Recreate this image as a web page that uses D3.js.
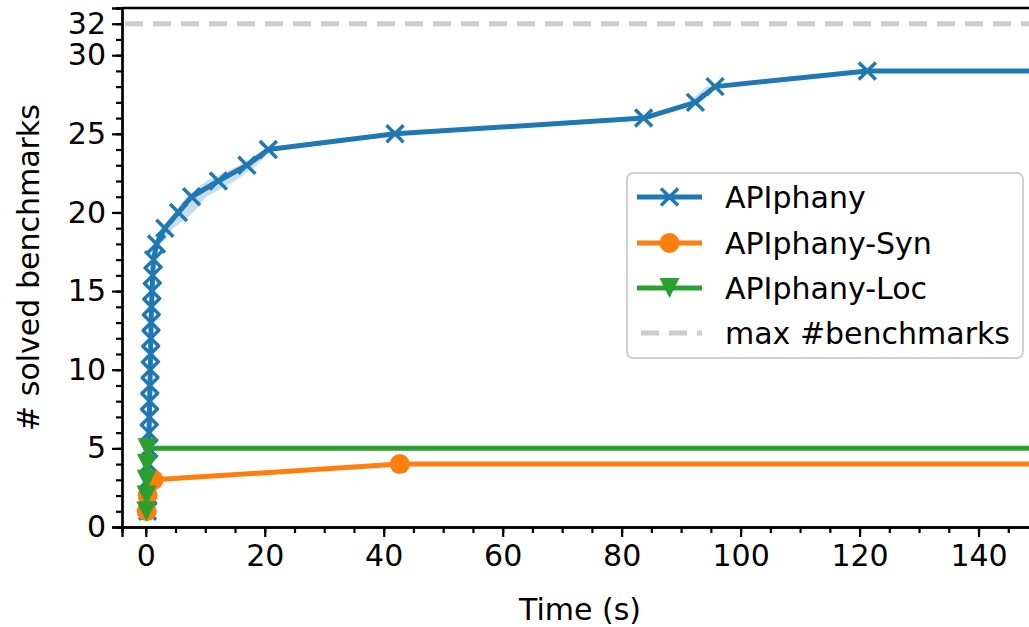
<!DOCTYPE html>
<html>
<head>
<meta charset="utf-8">
<script src="https://cdn.jsdelivr.net/npm/d3@7"></script>
<style>
  body { margin: 0; background: #fff; }
  text { font-family: 'DejaVu Sans', sans-serif; fill: #000; }
</style>
</head>
<body>
<div id="chart"></div>
<script>
// Data
const apiTime = [0.3, 0.35, 0.4, 0.45, 0.5, 0.55, 0.6, 0.65, 0.7, 0.75, 0.8, 0.85, 0.9, 0.95, 1.05, 1.15, 1.3, 1.8, 3.2, 5.5, 7.7, 12.2, 17.0, 20.6, 41.9, 83.7, 92.4, 95.7, 121.3];
const apiSolved = [1, 2, 3, 4, 5, 6, 7, 8, 9, 10, 11, 12, 13, 14, 15, 16, 17, 18, 19, 20, 21, 22, 23, 24, 25, 26, 27, 28, 29];
const synTime = [0.15, 0.3, 1.3, 42.7];
const synSolved = [1, 2, 3, 4];
const locTime = [0.1, 0.12, 0.15, 0.2, 0.3];
const locSolved = [1, 2, 3, 4, 5];
const timeout = 150;
const maxBenchmarks = 32;

// spread between runs (time range per solved count)
const bandSolved = [17, 18, 19, 20, 21, 22, 23, 24];
const bandLo = [1.2, 1.5, 2.8, 4.8, 6.8, 10.2, 15.8, 20.0];
const bandHi = [1.5, 2.6, 4.6, 8.0, 10.2, 15.0, 18.6, 21.2];
const band2Solved = [27, 28];
const band2Lo = [91.3, 94.2];
const band2Hi = [93.2, 96.2];

const xTicks = [0, 20, 40, 60, 80, 100, 120, 140];
const yTicks = [0, 5, 10, 15, 20, 25, 30, 32];

const seriesNames = ['APIphany', 'APIphany-Syn', 'APIphany-Loc', 'max #benchmarks'];
const color = ['#1f77b4', '#ff7f0e', '#2ca02c', '#cccccc'];

const width = 1029;
const height = 627;
const margin = { t: 8, r: -9, b: 100, l: 122 };
const fontSize = 30;

const svg = d3
  .select('#chart')
  .append('svg')
  .attr('width', width)
  .attr('height', height);

const x = d3.scaleLinear().domain([-4, 150]).range([margin.l, width - margin.r]);
const y = d3.scaleLinear().domain([0, 33]).range([height - margin.b, margin.t]);

svg
  .append('clipPath')
  .attr('id', 'clip')
  .append('rect')
  .attr('x', margin.l)
  .attr('y', margin.t)
  .attr('width', width - margin.r - margin.l)
  .attr('height', height - margin.b - margin.t);

const plot = svg.append('g').attr('clip-path', 'url(#clip)');

// max line
plot
  .append('line')
  .attr('x1', x(-4))
  .attr('x2', x(150))
  .attr('y1', y(maxBenchmarks))
  .attr('y2', y(maxBenchmarks))
  .attr('stroke', color[3])
  .attr('stroke-width', 5)
  .attr('stroke-dasharray', '18 10')
  .attr('stroke-dashoffset', -3);

// bands
const bandArea = d3
  .area()
  .y((d) => y(d[0]))
  .x0((d) => x(d[1]))
  .x1((d) => x(d[2]))
  .curve(d3.curveLinear);

plot
  .append('path')
  .datum(bandSolved.map((s, i) => [s, bandLo[i], bandHi[i]]))
  .attr('d', bandArea)
  .attr('fill', color[0])
  .attr('opacity', 0.25);

plot
  .append('path')
  .datum(band2Solved.map((s, i) => [s, band2Lo[i], band2Hi[i]]))
  .attr('d', bandArea)
  .attr('fill', color[0])
  .attr('opacity', 0.25);

const line = d3
  .line()
  .x((d) => x(d[0]))
  .y((d) => y(d[1]));

function drawSeries(times, solved, c) {
  const pts = times.map((t, i) => [t, solved[i]]);
  plot
    .append('path')
    .datum(pts.concat([[timeout, solved[solved.length - 1]]]))
    .attr('d', line)
    .attr('fill', 'none')
    .attr('stroke', c)
    .attr('stroke-width', 5)
    .attr('stroke-linejoin', 'round');
  return pts;
}

function xMarker(g, px, py, c) {
  const s = 8.5;
  g.append('path')
    .attr('d', `M${px - s},${py - s}L${px + s},${py + s}M${px - s},${py + s}L${px + s},${py - s}`)
    .attr('stroke', c)
    .attr('stroke-width', 3.5)
    .attr('fill', 'none');
}
function circleMarker(g, px, py, c) {
  g.append('circle').attr('cx', px).attr('cy', py).attr('r', 10).attr('fill', c);
}
function triMarker(g, px, py, c) {
  const s = 10;
  g.append('path')
    .attr('d', `M${px - s},${py - s}L${px + s},${py - s}L${px},${py + s}Z`)
    .attr('fill', c);
}

const apiPts = drawSeries(apiTime, apiSolved, color[0]);
const synPts = drawSeries(synTime, synSolved, color[1]);
const locPts = drawSeries(locTime, locSolved, color[2]);

apiPts.forEach((d) => xMarker(plot, x(d[0]), y(d[1]), color[0]));
synPts.forEach((d) => circleMarker(plot, x(d[0]), y(d[1]), color[1]));
locPts.forEach((d) => triMarker(plot, x(d[0]), y(d[1]), color[2]));

// axes
const xAxis = svg
  .append('g')
  .attr('transform', `translate(0,${y(0)})`)
  .call(d3.axisBottom(x).tickValues(d3.range(0, 151, 5)).tickSize(6).tickFormat(''));
xAxis
  .append('g')
  .call(d3.axisBottom(x).tickValues(xTicks).tickSize(10).tickPadding(8));

const yAxis = svg
  .append('g')
  .attr('transform', `translate(${x(-4)},0)`)
  .call(d3.axisLeft(y).tickValues(d3.range(0, 34, 1)).tickSize(6).tickFormat(''));
yAxis
  .append('g')
  .call(d3.axisLeft(y).tickValues(yTicks).tickSize(10).tickPadding(6));

svg.selectAll('.domain').attr('stroke', '#000').attr('stroke-width', 2.3);
svg.selectAll('.tick line').attr('stroke', '#000').attr('stroke-width', 2.2);
svg.selectAll('.tick text').style('font-size', `${fontSize}px`).attr('fill', '#000');

// top spine
svg
  .append('line')
  .attr('x1', x(-4))
  .attr('x2', width)
  .attr('y1', y(33))
  .attr('y2', y(33))
  .attr('stroke', '#000')
  .attr('stroke-width', 2.3);

// labels
svg
  .append('text')
  .attr('x', 580)
  .attr('y', 620)
  .attr('text-anchor', 'middle')
  .style('font-size', `${fontSize}px`)
  .text('Time (s)');

svg
  .append('text')
  .attr('transform', `translate(39,${(y(0) + y(33)) / 2}) rotate(-90)`)
  .attr('text-anchor', 'middle')
  .style('font-size', `${fontSize}px`)
  .text('# solved benchmarks');

// legend
const legend = svg.append('g').attr('class', 'legend');
legend
  .append('rect')
  .attr('x', 627)
  .attr('y', 173)
  .attr('width', 396)
  .attr('height', 185)
  .attr('rx', 6)
  .attr('ry', 6)
  .attr('fill', 'white')
  .attr('fill-opacity', 0.8)
  .attr('stroke', '#d0d0d0')
  .attr('stroke-width', 2);

const rowY = [197, 243, 288, 333];
seriesNames.forEach((name, i) => {
  const g = legend.append('g');
  g.append('line')
    .attr('x1', 637)
    .attr('x2', 702)
    .attr('y1', rowY[i])
    .attr('y2', rowY[i])
    .attr('stroke', color[i])
    .attr('stroke-width', 5)
    .attr('stroke-dasharray', i === 3 ? '18 10' : null)
    .attr('stroke-dashoffset', i === 3 ? -4 : null);
  if (i === 0) xMarker(g, 669.5, rowY[i], color[i]);
  if (i === 1) circleMarker(g, 669.5, rowY[i], color[i]);
  if (i === 2) triMarker(g, 669.5, rowY[i], color[i]);
  g.append('text')
    .attr('x', 725)
    .attr('y', rowY[i])
    .attr('dy', '0.35em')
    .style('font-size', `${fontSize}px`)
    .text(name);
});
</script>
</body>
</html>
